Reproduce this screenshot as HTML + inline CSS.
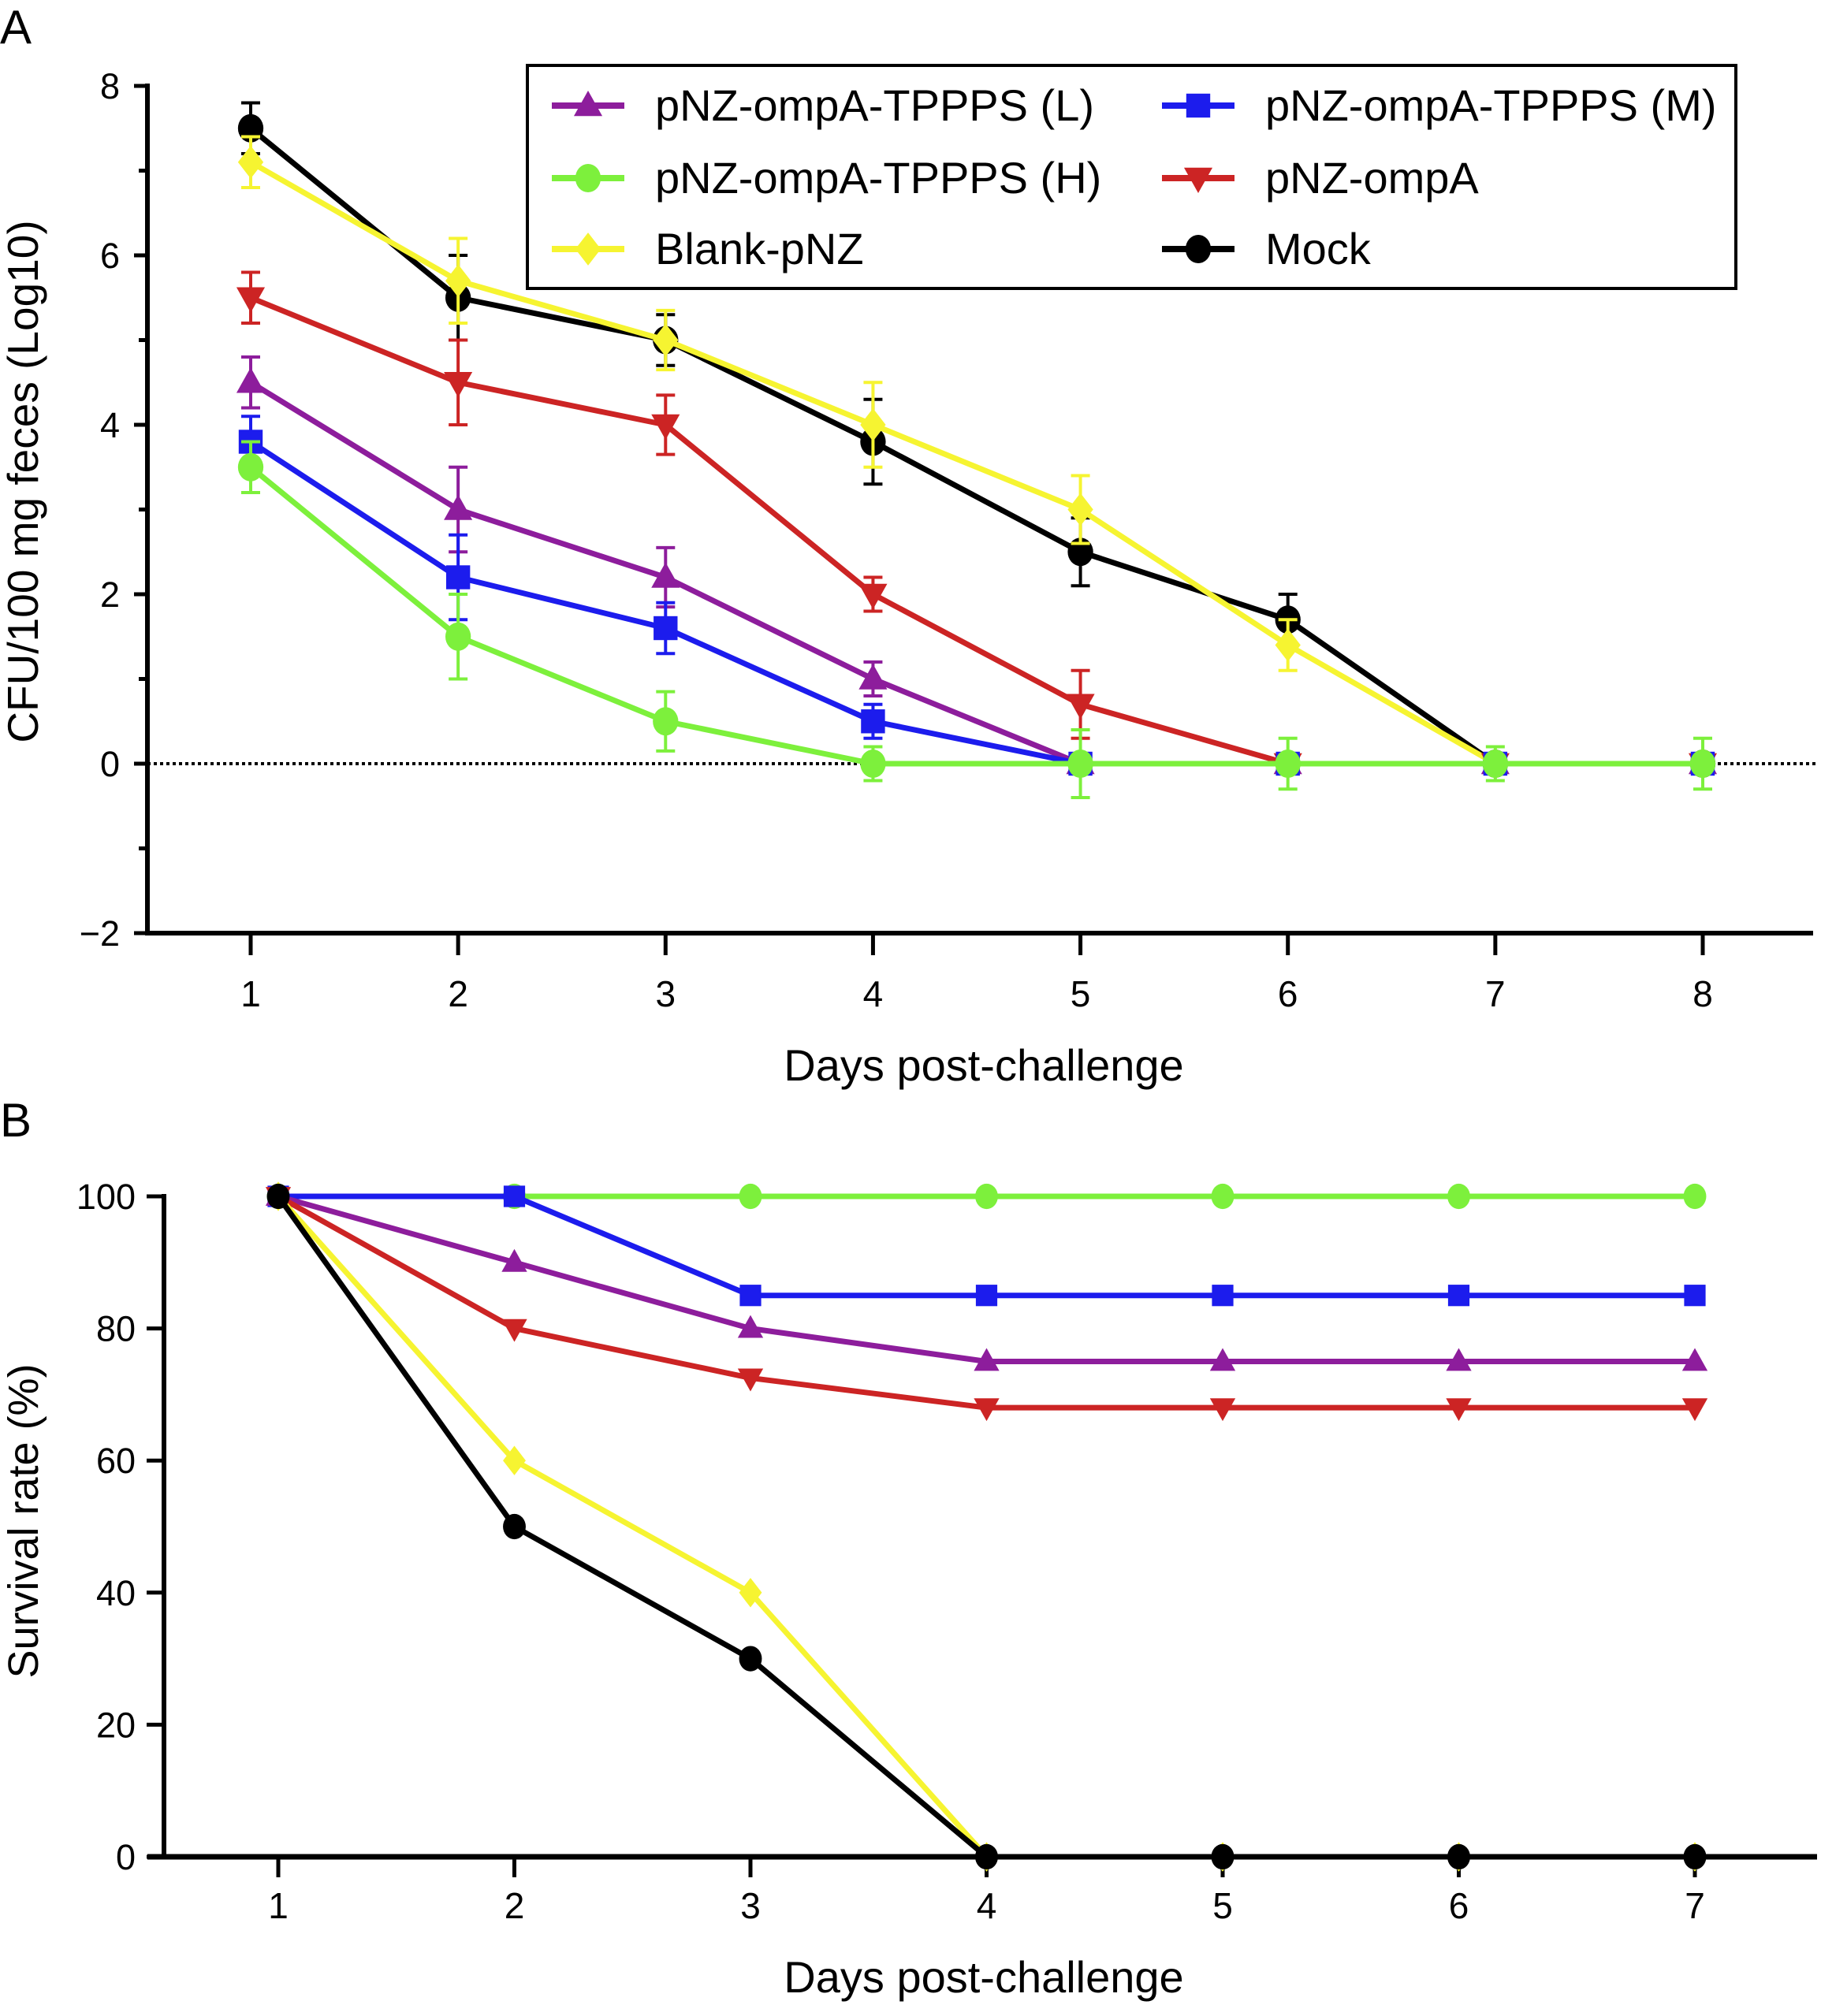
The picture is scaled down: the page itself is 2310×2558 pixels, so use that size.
<!DOCTYPE html>
<html><head><meta charset="utf-8"><style>
html,body{margin:0;padding:0;background:#fff;}
svg{display:block;font-family:"Liberation Sans",Arial,sans-serif;}
</style></head><body>
<svg id="fig" width="2310" height="2558" viewBox="0 0 2310 2558" xmlns="http://www.w3.org/2000/svg">
<text x="0" y="55" font-size="60">A</text>
<text x="0" y="1442" font-size="60">B</text>
<g id="chartA"></g>
<g id="chartB"></g>
</svg>
<script>
const days = [1,2,3,4,5,6,7,8];
const seriesNames = ["pNZ-ompA-TPPPS (L)","pNZ-ompA-TPPPS (M)","pNZ-ompA-TPPPS (H)","pNZ-ompA","Blank-pNZ","Mock"];
const aL = [4.5,3,2.2,1,0,0,0,0];
const aM = [3.8,2.2,1.6,0.5,0,0,0,0];
const aH = [3.5,1.5,0.5,0,0,0,0,0];
const aRed = [5.5,4.5,4,2,0.7,0,0,0];
const aBlank = [7.1,5.7,5,4,3,1.4,0,0];
const aMock = [7.5,5.5,5,3.8,2.5,1.7,0,0];
const eL = [0.3,0.5,0.35,0.2,0,0,0,0];
const eM = [0.3,0.5,0.3,0.2,0,0,0,0];
const eH = [0.3,0.5,0.35,0.2,0.4,0.3,0.2,0.3];
const eRed = [0.3,0.5,0.35,0.2,0.4,0,0,0];
const eBlank = [0.3,0.5,0.35,0.5,0.4,0.3,0,0];
const eMock = [0.3,0.5,0.3,0.5,0.4,0.3,0,0];
const yTicksA = [-2,0,2,4,6,8];
const daysB = [1,2,3,4,5,6,7];
const bL = [100,90,80,75,75,75,75];
const bM = [100,100,85,85,85,85,85];
const bH = [100,100,100,100,100,100,100];
const bRed = [100,80,72.5,68,68,68,68];
const bBlank = [100,60,40,0,0,0,0];
const bMock = [100,50,30,0,0,0,0];
const yTicksB = [0,20,40,60,80,100];

const NS="http://www.w3.org/2000/svg";
function mk(tag, attrs, parent){const e=document.createElementNS(NS,tag);for(const k in attrs)e.setAttribute(k,attrs[k]);parent.appendChild(e);return e;}
const colors={L:"#8d1d9c",M:"#1c1ced",H:"#7df03c",R:"#cc2424",Y:"#f6f431",K:"#000000"};
function marker(g,type,x,y,c,s){
  let e;
  if(type==="tri") e=mk("polygon",{points:`${x},${y-s} ${x-s*0.95},${y+s*0.7} ${x+s*0.95},${y+s*0.7}`,fill:c},g);
  else if(type==="inv") e=mk("polygon",{points:`${x},${y+s} ${x-s*0.95},${y-s*0.7} ${x+s*0.95},${y-s*0.7}`,fill:c},g);
  else if(type==="sq") e=mk("rect",{x:x-s*0.8,y:y-s*0.8,width:s*1.6,height:s*1.6,fill:c},g);
  else if(type==="dia") e=mk("polygon",{points:`${x},${y-s*1.1} ${x+s*0.85},${y} ${x},${y+s*1.1} ${x-s*0.85},${y}`,fill:c},g);
  else e=mk("ellipse",{cx:x,cy:y,rx:s*0.85,ry:s*0.95,fill:c},g);
  return e;
}

// ---------- Chart A ----------
(function(){
  const g=document.getElementById("chartA");
  const X=d=>318+(d-1)*(2160-318)/7;
  const Y=v=>969-v*107.5;
  const z=mk("line",{x1:187,x2:2305,y1:Y(0),y2:Y(0),stroke:"#000","stroke-width":4,"stroke-dasharray":"4,4"},g);
  
  
  const ax=mk("line",{x1:187,x2:187,y1:Y(8)-3,y2:Y(-2)+3,stroke:"#000","stroke-width":6},g);
  
  
  const xx=mk("line",{x1:184,x2:2300,y1:Y(-2),y2:Y(-2),stroke:"#000","stroke-width":6},g);
  
  
  for(let v=-2;v<=8;v++){
    mk("line",{x1:v%2===0?170:176,x2:187,y1:Y(v),y2:Y(v),stroke:"#000","stroke-width":5},g);
  }
  yTicksA.forEach(v=>{
    const t=mk("text",{x:152,y:Y(v)+16,"font-size":45,"text-anchor":"end"},g);
    t.textContent=v<0?"\u2212"+(-v):String(v);
    
    
  });
  days.forEach(d=>{
    mk("line",{x1:X(d),x2:X(d),y1:Y(-2),y2:Y(-2)+28,stroke:"#000","stroke-width":5},g);
    const t=mk("text",{x:X(d),y:1277,"font-size":46,"text-anchor":"middle"},g);
    t.textContent=String(d);
    
    
  });
  const xt=mk("text",{x:1248,y:1371,"font-size":56,"text-anchor":"middle"},g);
  xt.textContent="Days post-challenge";
  
  
  const yt=mk("text",{x:0,y:0,"font-size":55,"text-anchor":"middle",transform:"translate(48,611) rotate(-90)"},g);
  yt.textContent="CFU/100 mg feces (Log10)";
  
  
  const order=[["Mock",aMock,eMock,colors.K,"circ"],["Blank",aBlank,eBlank,colors.Y,"dia"],["ompA",aRed,eRed,colors.R,"inv"],["L",aL,eL,colors.L,"tri"],["M",aM,eM,colors.M,"sq"],["H",aH,eH,colors.H,"circ"]];
  order.forEach(([nm,vals,errs,c,mt])=>{
    const sg=mk("g",{},g);
    
    
    mk("polyline",{points:vals.map((v,i)=>X(days[i])+","+Y(v)).join(" "),fill:"none",stroke:c,"stroke-width":7,"stroke-linejoin":"round"},sg);
    vals.forEach((v,i)=>{
      if(errs[i]>0){
        mk("line",{x1:X(days[i]),x2:X(days[i]),y1:Y(v+errs[i]),y2:Y(v-errs[i]),stroke:c,"stroke-width":4},sg);
        mk("line",{x1:X(days[i])-12,x2:X(days[i])+12,y1:Y(v+errs[i]),y2:Y(v+errs[i]),stroke:c,"stroke-width":4},sg);
        mk("line",{x1:X(days[i])-12,x2:X(days[i])+12,y1:Y(v-errs[i]),y2:Y(v-errs[i]),stroke:c,"stroke-width":4},sg);
      }
      const m=marker(sg,mt,X(days[i]),Y(v),c,19);
      
      
    });
  });
  const lg=mk("g",{},g);
  
  
  mk("rect",{x:669,y:83,width:1533,height:283,fill:"#fff",stroke:"#000","stroke-width":4},lg);
  const ents=[["pNZ-ompA-TPPPS (L)",colors.L,"tri",700,134],["pNZ-ompA-TPPPS (H)",colors.H,"circ",700,226],["Blank-pNZ",colors.Y,"dia",700,316],["pNZ-ompA-TPPPS (M)",colors.M,"sq",1474,134],["pNZ-ompA",colors.R,"inv",1474,226],["Mock",colors.K,"circ",1474,316]];
  ents.forEach(([lab,c,mt,x,y])=>{
    const eg=mk("g",{},lg);
    
    
    mk("line",{x1:x,x2:x+92,y1:y,y2:y,stroke:c,"stroke-width":8},eg);
    marker(eg,mt,x+46,y,c,19);
    const t=mk("text",{x:x+131,y:y+19,"font-size":56},eg);
    t.textContent=lab;
  });
})();

// ---------- Chart B ----------
(function(){
  const g=document.getElementById("chartB");
  const X=d=>353+(d-1)*(2150-353)/6;
  const Y=v=>2356-v*(2356-1518)/100;
  const ax=mk("line",{x1:208,x2:208,y1:Y(100)-3,y2:Y(0),stroke:"#000","stroke-width":6},g);
  
  
  yTicksB.forEach(v=>{
    mk("line",{x1:186,x2:208,y1:Y(v),y2:Y(v),stroke:"#000","stroke-width":5},g);
    const t=mk("text",{x:172,y:Y(v)+16,"font-size":45,"text-anchor":"end"},g);
    t.textContent=String(v);
    
    
  });
  daysB.forEach(d=>{
    mk("line",{x1:X(d),x2:X(d),y1:Y(0),y2:Y(0)+26,stroke:"#000","stroke-width":5},g);
    const t=mk("text",{x:X(d),y:2434,"font-size":46,"text-anchor":"middle"},g);
    t.textContent=String(d);
    
    
  });
  const xt=mk("text",{x:1248,y:2528,"font-size":56,"text-anchor":"middle"},g);
  xt.textContent="Days post-challenge";
  
  
  const yt=mk("text",{x:0,y:0,"font-size":54,"text-anchor":"middle",transform:"translate(48,1930) rotate(-90)"},g);
  yt.textContent="Survival rate (%)";
  
  
  const order=[["H",bH,colors.H,"circ"],["M",bM,colors.M,"sq"],["L",bL,colors.L,"tri"],["ompA",bRed,colors.R,"inv"],["Blank",bBlank,colors.Y,"dia"],["Mock",bMock,colors.K,"circ"]];
  order.forEach(([nm,vals,c,mt])=>{
    const sg=mk("g",{},g);
    
    
    mk("polyline",{points:vals.map((v,i)=>X(daysB[i])+","+Y(v)).join(" "),fill:"none",stroke:c,"stroke-width":7,"stroke-linejoin":"round"},sg);
    vals.forEach((v,i)=>{
      const m=marker(sg,mt,X(daysB[i]),Y(v),c,17);
      
      
    });
  });
  const xx=mk("line",{x1:187,x2:2305,y1:Y(0),y2:Y(0),stroke:"#000","stroke-width":7},g);
  
  
  bMock.forEach((v,i)=>{ if(v===0){ marker(g,"circ",X(daysB[i]),Y(v),colors.K,17); } });
})();
</script>
</body></html>
